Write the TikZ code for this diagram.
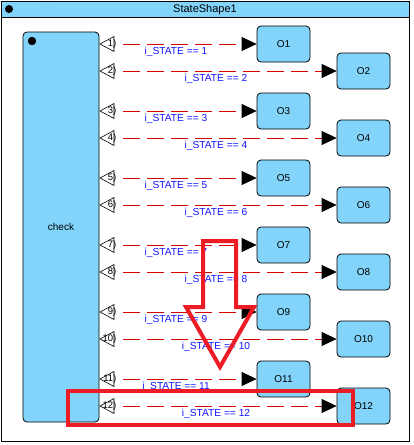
\documentclass[tikz,border=0pt]{standalone}
\usepackage{fontspec}
\setmainfont{Liberation Sans}
\usetikzlibrary{arrows.meta}
\definecolor{fillblue}{RGB}{130,212,250}
\definecolor{lblblue}{RGB}{20,20,255}
\definecolor{dashred}{RGB}{210,0,0}
\definecolor{markred}{RGB}{237,28,36}
\tikzset{
  obox/.style={draw=black, fill=fillblue, rounded corners=4pt, minimum width=53pt, minimum height=36pt, inner sep=0pt, font=\fontsize{10}{12}\selectfont, line width=0.8pt},
  portnum/.style={anchor=east, inner sep=0pt, font=\fontsize{9.5}{10}\selectfont},
  trans/.style={draw=dashred, line width=0.8pt, dash pattern=on 17pt off 7pt, -{Triangle[length=15pt,width=14pt,black,fill=black]}},
  lbl/.style={text=lblblue, inner sep=0pt, font=\fontsize{10.2}{12}\selectfont},
  redmark/.style={draw=markred, line width=4pt, line join=miter}
}
\begin{document}
\begin{tikzpicture}[x=1pt,y=-1pt]
\useasboundingbox (0,0) rectangle (413,445);
\fill[white] (0,0) rectangle (413,445);
% outer frame
\fill[fillblue] (1,1) rectangle (409,17);
\draw[line width=0.8pt] (1,1) rectangle (409,441);
\draw[line width=0.8pt] (1,17) -- (409,17);
\fill[white] (45,0) arc (180:360:4.5 and 4.5) -- cycle;
\draw[line width=0.6pt] (45,0) arc (180:360:4.5 and 4.5);
\fill[black] (9,9) circle (4);
\node[inner sep=0pt, font=\fontsize{11}{13}\selectfont] (title) at (205,10) {StateShape1};
% check state
\node[draw=black, fill=fillblue, rounded corners=4pt, line width=0.8pt, minimum width=76pt, minimum height=390pt, inner sep=0pt, font=\fontsize{10}{12}\selectfont] (check) at (61,227) {check};
\fill[black] (32,41) circle (4.2);
% rows
\foreach \i in {1,...,12}{
  \pgfmathtruncatemacro{\k}{(\i-1)/2}
  \pgfmathtruncatemacro{\odd}{mod(\i,2)}
  \ifnum\odd=1
    \pgfmathsetmacro{\yy}{44+67*\k}
    \pgfmathsetmacro{\bx}{283.5}
    \pgfmathsetmacro{\lx}{176}
  \else
    \pgfmathsetmacro{\yy}{71+67*\k}
    \pgfmathsetmacro{\bx}{363.5}
    \pgfmathsetmacro{\lx}{216}
  \fi
  \draw[line width=0.6pt, fill=white] (100,\yy) -- (114,\yy-7.5) -- (114,\yy+7.5) -- cycle;
  \node[portnum] (p\i) at (116.5,\yy) {\i)};
  \coordinate (s\i) at (123,\yy);
  \node[obox] (O\i) at (\bx,\yy) {O\i};
  \draw[trans] (s\i) -- (O\i.west);
  \node[lbl] (l\i) at (\lx,\yy+7.5) {i\_STATE == \i};
}
% red annotation overlay
\draw[redmark] (203,241) -- (236,241) -- (236,307) -- (254,307) -- (220,367) -- (186,307) -- (203,307) -- cycle;
\draw[redmark] (68,391) rectangle (353,425);
\end{tikzpicture}
\end{document}
